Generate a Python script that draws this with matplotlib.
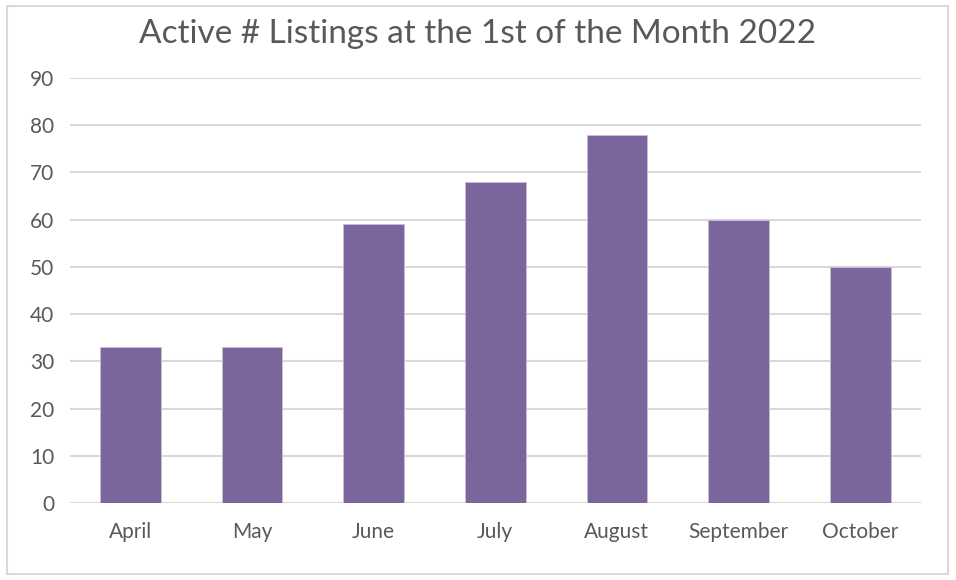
import matplotlib
matplotlib.use("Agg")
import matplotlib.pyplot as plt
from matplotlib.patches import Rectangle

months = ["April", "May", "June", "July", "August", "September", "October"]
listings = [33, 33, 59, 68, 78, 60, 50]
y_ticks = [0, 10, 20, 30, 40, 50, 60, 70, 80, 90]

plt.rcParams['font.family'] = ['Lato', 'DejaVu Sans']
text_color = "#595959"
grid_color = "#D9D9D9"

fig = plt.figure(figsize=(9.56, 5.8), dpi=100)
ax = fig.add_axes([0.0729, 0.1328, 0.8904, 0.7327])

x = range(len(months))
ax.bar(x, listings, width=0.5, color="#7A669D", edgecolor="#C9BEDB", linewidth=0.6, zorder=3)

ax.set_xlim(-0.5, len(months) - 0.5)
ax.set_ylim(0, 90)
ax.set_yticks(y_ticks)
ax.set_xticks(list(x))
ax.set_xticklabels(months)
ax.tick_params(axis='both', length=0, labelsize=15, colors=text_color)
ax.tick_params(axis='x', pad=14)
ax.tick_params(axis='y', pad=11)
ax.yaxis.grid(True, color=grid_color, linewidth=1.5, zorder=0)
for s in ax.spines.values():
    s.set_visible(False)
ax.axhline(0, color=grid_color, linewidth=1.5, zorder=2)

fig.text(0.5, 0.942, "Active # Listings at the 1st of the Month 2022", ha='center', va='center',
         fontsize=24, color=text_color)

fig.patches.append(Rectangle((0.007, 0.01), 0.985, 0.98, transform=fig.transFigure,
                             fill=False, edgecolor=grid_color, linewidth=1.5))

fig.savefig("out.png", dpi=100, facecolor="white")
